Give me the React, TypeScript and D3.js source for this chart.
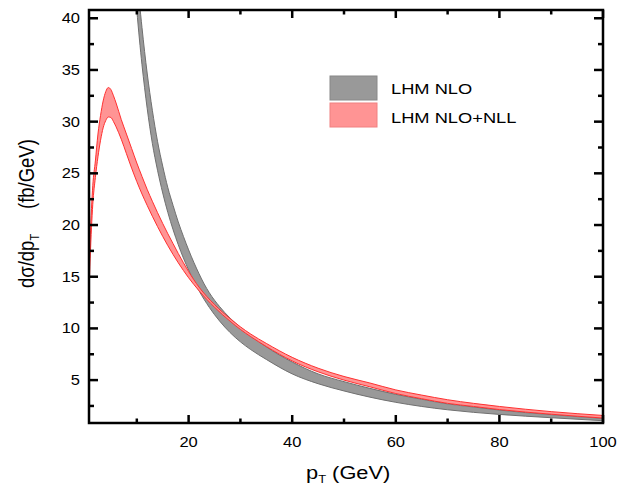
import React from "react";
import * as d3 from "d3";

// NLO band (gray)
const nloPt = [9, 10, 11, 12, 13, 14, 15, 16, 17, 18, 19, 20, 21, 22, 23, 24, 26, 28, 30, 32, 35, 40, 45, 50, 55, 60, 65, 70, 75, 80, 90, 100];
const nloLow = [47.5, 40.8, 35.5, 31.3, 27.9, 25.3, 23.1, 21.2, 19.55, 18.1, 16.8, 15.65, 14.6, 13.65, 12.8, 12.03, 10.7, 9.6, 8.7, 7.95, 7.0, 5.6, 4.65, 3.95, 3.35, 2.85, 2.45, 2.13, 1.88, 1.68, 1.36, 1.07];
const nloHigh = [51, 44.4, 39.1, 34.7, 31.1, 28.1, 25.7, 23.6, 21.9, 20.3, 18.9, 17.6, 16.4, 15.3, 14.3, 13.45, 12.1, 11.0, 10.1, 9.3, 8.22, 6.75, 5.6, 4.85, 4.2, 3.62, 3.15, 2.7, 2.4, 2.1, 1.66, 1.3];

// NLO+NLL band (red)
const nllPt = [0.77, 1, 1.5, 2, 2.5, 3, 3.5, 4, 4.5, 5, 5.5, 6, 7, 8, 9, 10, 11, 12, 13, 14, 15, 16, 17, 18, 19, 20, 22, 25, 28, 30, 32, 35, 40, 45, 50, 55, 60, 65, 70, 75, 80, 90, 100];
const nllLow = [13.5, 16.8, 22.0, 24.6, 26.6, 28.2, 29.4, 30.1, 30.45, 30.4, 30.0, 29.5, 28.3, 26.9, 25.5, 24.2, 23.0, 21.9, 20.85, 19.85, 18.9, 18.0, 17.15, 16.35, 15.6, 14.9, 13.65, 12.05, 10.7, 9.9, 9.2, 8.25, 6.85, 5.8, 5.0, 4.35, 3.7, 3.2, 2.75, 2.45, 2.15, 1.7, 1.33];
const nllHigh = [15.0, 18.6, 23.8, 26.2, 28.8, 30.6, 32.0, 32.9, 33.3, 33.1, 32.5, 31.8, 30.2, 28.8, 27.4, 26.0, 24.7, 23.45, 22.3, 21.2, 20.15, 19.15, 18.2, 17.25, 16.35, 15.5, 14.0, 12.3, 10.95, 10.15, 9.45, 8.55, 7.2, 6.15, 5.35, 4.72, 4.05, 3.55, 3.1, 2.75, 2.45, 1.95, 1.58];

const xMajor = [20, 40, 60, 80, 100];
const xMinor = [10, 30, 50, 70, 90];
const yMajor = [5, 10, 15, 20, 25, 30, 35, 40];
const yMinor = [2.5, 7.5, 12.5, 17.5, 22.5, 27.5, 32.5, 37.5];

const legendNames = ["LHM NLO", "LHM NLO+NLL"];

const W = 639, H = 485;
const L = 89, R = 603, T = 10, B = 423;
const SX = 1.18; // text in the original is stretched horizontally
const FONT = "Liberation Sans, Arial, sans-serif";

const x = d3.scaleLinear().domain([0.77, 100]).range([L, R]);
const y = d3.scaleLinear().domain([0.85, 40.8]).range([B, T]);

type Row = { p: number; lo: number; hi: number };
const rows = (p: number[], lo: number[], hi: number[]): Row[] => p.map((v, i) => ({ p: v, lo: lo[i], hi: hi[i] }));

const area = d3.area<Row>().x(d => x(d.p)).y0(d => y(d.lo)).y1(d => y(d.hi)).curve(d3.curveMonotoneX);
const lineLo = d3.line<Row>().x(d => x(d.p)).y(d => y(d.lo)).curve(d3.curveMonotoneX);
const lineHi = d3.line<Row>().x(d => x(d.p)).y(d => y(d.hi)).curve(d3.curveMonotoneX);

const Txt = ({ tx, ty, size, anchor = "start", rot = 0, children }: any) => (
  <g transform={`translate(${tx},${ty}) scale(${SX},1)${rot ? ` rotate(${rot})` : ""}`}>
    <text x={0} y={0} fontSize={size} fontFamily={FONT} textAnchor={anchor} fill="#000">{children}</text>
  </g>
);

export default function App() {
  const nlo = rows(nloPt, nloLow, nloHigh);
  const nll = rows(nllPt, nllLow, nllHigh);
  return (
    <svg width={W} height={H} style={{ position: "absolute", left: 0, top: 0, background: "#fff" }}>
      <defs>
        <clipPath id="plot"><rect x={L} y={T} width={R - L} height={B - T} /></clipPath>
      </defs>
      <g clipPath="url(#plot)">
        <path d={area(nlo) || ""} fill="#999999" />
        <path d={lineLo(nlo) || ""} fill="none" stroke="#707070" strokeWidth={1} />
        <path d={lineHi(nlo) || ""} fill="none" stroke="#707070" strokeWidth={1} />
        <path d={area(nll) || ""} fill="#ff9494" />
        <path d={lineLo(nll) || ""} fill="none" stroke="#ff3030" strokeWidth={1} />
        <path d={lineHi(nll) || ""} fill="none" stroke="#ff3030" strokeWidth={1} />
      </g>

      {/* frame and ticks */}
      <rect x={L} y={T} width={R - L} height={B - T} fill="none" stroke="#000" strokeWidth={2.5} />
      <g stroke="#000" strokeWidth={2.5}>
        {xMajor.map(v => <g key={"xM" + v}>
          <line x1={x(v)} x2={x(v)} y1={B} y2={B - 8} />
          <line x1={x(v)} x2={x(v)} y1={T} y2={T + 8} />
        </g>)}
        {xMinor.map(v => <g key={"xm" + v}>
          <line x1={x(v)} x2={x(v)} y1={B} y2={B - 4.5} />
          <line x1={x(v)} x2={x(v)} y1={T} y2={T + 4.5} />
        </g>)}
        {yMajor.map(v => <g key={"yM" + v}>
          <line x1={L} x2={L + 9} y1={y(v)} y2={y(v)} />
          <line x1={R} x2={R - 9} y1={y(v)} y2={y(v)} />
        </g>)}
        {yMinor.map(v => <g key={"ym" + v}>
          <line x1={L} x2={L + 5} y1={y(v)} y2={y(v)} />
          <line x1={R} x2={R - 5} y1={y(v)} y2={y(v)} />
        </g>)}
      </g>

      {xMajor.map(v => <Txt key={"xl" + v} tx={x(v)} ty={447} size={14} anchor="middle">{v}</Txt>)}
      {yMajor.map(v => <Txt key={"yl" + v} tx={80} ty={y(v) + 5} size={14} anchor="end">{v}</Txt>)}

      {/* axis titles */}
      <Txt tx={306} ty={479} size={18.5}>
        p<tspan fontSize={11} dy={4}>T</tspan><tspan dy={-4}> (GeV)</tspan>
      </Txt>
      <Txt tx={34} ty={288} size={18.5} rot={-90}>
        dσ/dp<tspan fontSize={11} dy={4}>T</tspan>
      </Txt>
      <Txt tx={34} ty={209} size={18.5} rot={-90}>(fb/GeV)</Txt>

      {/* legend */}
      <rect x={330} y={76} width={47} height={24} fill="#999999" stroke="#888" strokeWidth={1} />
      <rect x={330} y={103} width={47} height={24} fill="#ff9494" stroke="#f08080" strokeWidth={1} />
      <Txt tx={391} ty={94} size={15.5}>{legendNames[0]}</Txt>
      <Txt tx={391} ty={123} size={15.5}>{legendNames[1]}</Txt>
    </svg>
  );
}
